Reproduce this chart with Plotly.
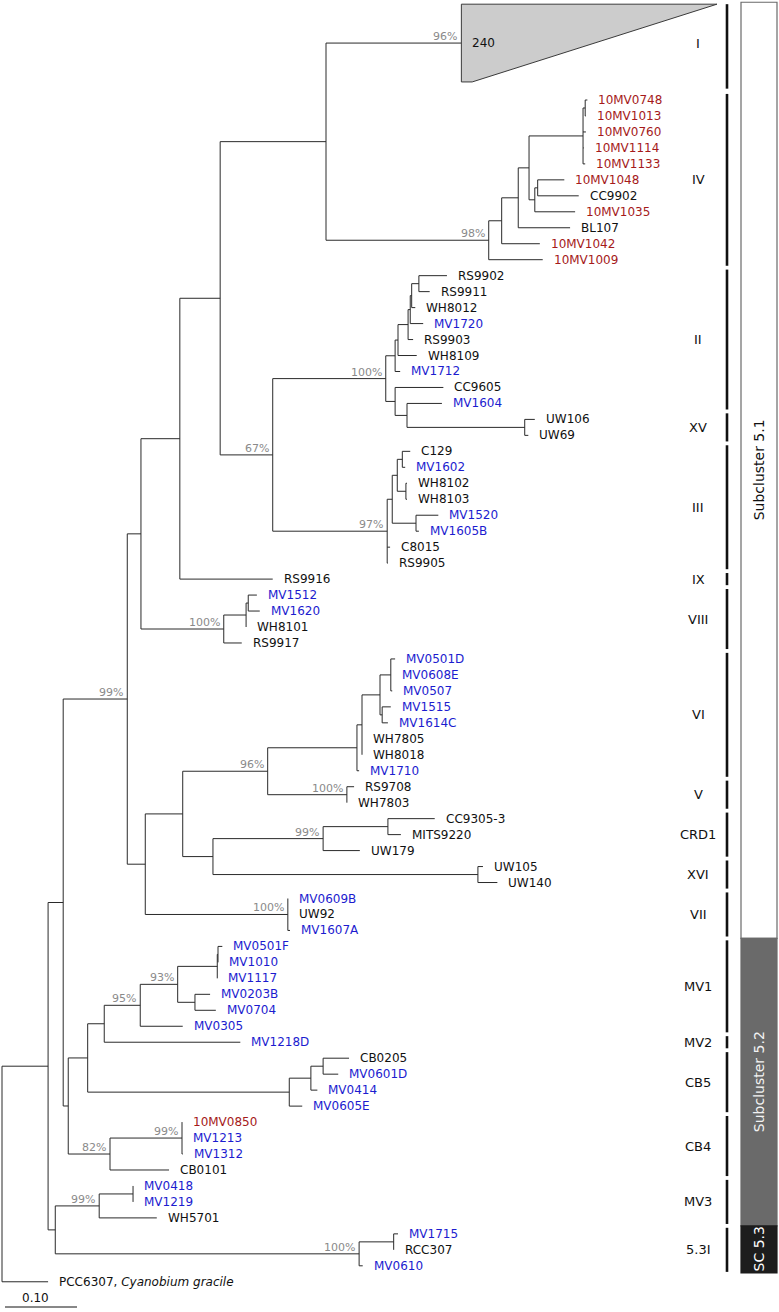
import plotly.graph_objects as go

# ---------------- data ----------------
# tree: internal node = N(depth, children..., bs=bootstrap); leaf = L(name, depth)
# depth = distance from root (substitutions per site)
def L(name, d):
    return {"name": name, "d": d}

def N(d, *kids, bs=None):
    return {"d": d, "kids": list(kids), "bs": bs}

def C(name, d_left, d_bottom, d_apex, count, bs=None):
    return {"name": name, "d": d_left, "d_bottom": d_bottom, "d_apex": d_apex,
            "count": count, "bs": bs, "collapsed": True}

tree = N(0.0,
  N(0.064,
    N(0.085,
      N(0.174,
        N(0.193,
          N(0.247,
            N(0.303,
              N(0.45,
                C("I", 0.638, 0.653, 0.993, "240", bs="96%"),
                N(0.676,
                  N(0.694,
                    N(0.717,
                      N(0.732,
                        N(0.807,
                          N(0.81, L("10MV0748", 0.813), L("10MV1013", 0.811)),
                          L("10MV0760", 0.811), L("10MV1114", 0.808), L("10MV1133", 0.81)),
                        N(0.74,
                          N(0.744, L("10MV1048", 0.781), L("CC9902", 0.801)),
                          L("10MV1035", 0.796))),
                      L("BL107", 0.789)),
                    L("10MV1042", 0.747)),
                  L("10MV1009", 0.751), bs="98%")),
              N(0.376,
                N(0.533,
                  N(0.546,
                    N(0.55,
                      N(0.564,
                        N(0.567,
                          N(0.569,
                            N(0.579, L("RS9902", 0.618), L("RS9911", 0.594)),
                            L("WH8012", 0.574)),
                          L("MV1720", 0.585)),
                        L("RS9903", 0.571)),
                      L("WH8109", 0.576)),
                    L("MV1712", 0.553)),
                  N(0.546,
                    L("CC9605", 0.613),
                    N(0.5625, L("MV1604", 0.611),
                      N(0.726, L("UW106", 0.74), L("UW69", 0.731)))), bs="100%"),
                N(0.535,
                  N(0.542,
                    N(0.549,
                      N(0.556, L("C129", 0.567), L("MV1602", 0.56)),
                      N(0.561, L("WH8102", 0.5625), L("WH8103", 0.5625))),
                    N(0.575, L("MV1520", 0.606), L("MV1605B", 0.579))),
                  L("C8015", 0.539), L("RS9905", 0.536), bs="97%"), bs="67%")),
            L("RS9916", 0.376)),
          N(0.308,
            N(0.339,
              N(0.342, L("MV1512", 0.354), L("MV1620", 0.358)),
              L("WH8101", 0.339)),
            L("RS9917", 0.333), bs="100%")),
        N(0.199,
          N(0.251,
            N(0.369,
              N(0.493,
                N(0.5,
                  N(0.525,
                    N(0.54, L("MV0501D", 0.546), L("MV0608E", 0.54), L("MV0507", 0.542)),
                    N(0.528, L("MV1515", 0.54), L("MV1614C", 0.536))),
                  L("WH7805", 0.5), L("WH8018", 0.5)),
                L("MV1710", 0.496)),
              N(0.479, L("RS9708", 0.489), L("WH7803", 0.479), bs="100%"), bs="96%"),
            N(0.293,
              N(0.446,
                N(0.536, L("CC9305-3", 0.601), L("MITS9220", 0.554)),
                L("UW179", 0.497), bs="99%"),
              N(0.661, L("UW105", 0.668), L("UW140", 0.688)))),
          N(0.397, L("MV0609B", 0.397), L("UW92", 0.397), L("MV1607A", 0.4), bs="100%")), bs="99%"),
      N(0.092,
        N(0.119,
          N(0.142,
            N(0.192,
              N(0.244,
                N(0.299,
                  N(0.3, L("MV0501F", 0.306), L("MV1010", 0.3)),
                  L("MV1117", 0.299)),
                N(0.268, L("MV0203B", 0.289), L("MV0704", 0.297)), bs="93%"),
              L("MV0305", 0.251), bs="95%"),
            L("MV1218D", 0.331)),
          N(0.399,
            N(0.429,
              N(0.446, L("CB0205", 0.482), L("MV0601D", 0.467)),
              L("MV0414", 0.438)),
            L("MV0605E", 0.417))),
        N(0.15,
          N(0.25, L("10MV0850", 0.25), L("MV1213", 0.25), L("MV1312", 0.251), bs="99%"),
          L("CB0101", 0.232), bs="82%"))),
    N(0.074,
      N(0.135,
        N(0.182, L("MV0418", 0.182), L("MV1219", 0.182)),
        L("WH5701", 0.215), bs="99%"),
      N(0.496,
        N(0.544, L("MV1715", 0.55), L("RCC307", 0.544)),
        L("MV0610", 0.501), bs="100%"))),
  L("PCC6307, <i>Cyanobium gracile</i>", 0.064))

clade_names = ["I", "IV", "II", "XV", "III", "IX", "VIII", "VI", "V", "CRD1",
               "XVI", "VII", "MV1", "MV2", "CB5", "CB4", "MV3", "5.3I"]
clade_first = ["I", "10MV0748", "RS9902", "UW106", "C129", "RS9916", "MV1512", "MV0501D",
               "RS9708", "CC9305-3", "UW105", "MV0609B", "MV0501F", "MV1218D", "CB0205",
               "10MV0850", "MV0418", "MV1715"]
clade_last = ["I", "10MV1009", "MV1604", "UW69", "RS9905", "RS9916", "RS9917", "MV1710",
              "WH7803", "UW179", "UW140", "MV1607A", "MV0305", "MV1218D", "MV0605E",
              "CB0101", "WH5701", "MV0610"]

sub_names = ["Subcluster 5.1", "Subcluster 5.2", "SC 5.3"]
sub_first = ["I", "MV0501F", "MV1715"]
sub_last = ["MV1607A", "WH5701", "MV0610"]

scale_bar_length = 0.10
scale_bar_label = "0.10"

# ---------------- layout constants ----------------
W, H = 779, 1312
PX_PER_UNIT = 720.0
ROOT_PX = 2.0
ROW_PX = 15.97
FIRST_ROW_PX = 100.0
COLLAPSED_TOP, COLLAPSED_BOTTOM = -6.0, -1.13
FONT = "DejaVu Sans"
LINE_COLOR = "#2a2a2a"
RED, BLUE, BLACK, GRAY = "#a51a1a", "#1c1ccf", "#111111", "#8a8a8a"

# ---------------- compute y positions ----------------
counter = [0]
ypos = {}

def layout(node):
    if "kids" in node:
        for k in node["kids"]:
            layout(k)
        node["y"] = (node["kids"][0]["y"] + node["kids"][-1]["y"]) / 2.0
    elif node.get("collapsed"):
        node["y"] = (COLLAPSED_TOP + COLLAPSED_BOTTOM) / 2.0
        ypos[node["name"]] = (COLLAPSED_TOP, COLLAPSED_BOTTOM)
    else:
        node["y"] = float(counter[0])
        ypos[node["name"]] = (node["y"], node["y"])
        counter[0] += 1

layout(tree)

xs, ys = [], []
annotations = []
collapsed_nodes = []

def leaf_color(name):
    if name.startswith("10MV"):
        return RED
    if name.startswith("MV"):
        return BLUE
    return BLACK

def draw(node):
    if "kids" in node:
        kids = node["kids"]
        xs.extend([node["d"], node["d"], None])
        ys.extend([kids[0]["y"], kids[-1]["y"], None])
        for k in kids:
            xs.extend([node["d"], k["d"], None])
            ys.extend([k["y"], k["y"], None])
            draw(k)
    elif node.get("collapsed"):
        collapsed_nodes.append(node)
    else:
        annotations.append(dict(x=node["d"], y=node["y"], text=node["name"], showarrow=False,
                                xanchor="left", yanchor="middle", xshift=9,
                                font=dict(family=FONT, size=12, color=leaf_color(node["name"]))))
    if node.get("bs"):
        annotations.append(dict(x=node["d"], y=node["y"], text=node["bs"], showarrow=False,
                                xanchor="right", yanchor="bottom", xshift=-2, yshift=-2,
                                font=dict(family=FONT, size=11, color=GRAY)))

draw(tree)

fig = go.Figure()
fig.add_trace(go.Scatter(x=xs, y=ys, mode="lines", line=dict(color=LINE_COLOR, width=1),
                         hoverinfo="skip", showlegend=False))

for c in collapsed_nodes:
    fig.add_trace(go.Scatter(
        x=[c["d"], c["d_apex"], c["d_bottom"], c["d"], c["d"]],
        y=[COLLAPSED_TOP, COLLAPSED_TOP, COLLAPSED_BOTTOM, COLLAPSED_BOTTOM, COLLAPSED_TOP],
        mode="lines", fill="toself", fillcolor="#cccccc",
        line=dict(color="#3a3a3a", width=1), hoverinfo="skip", showlegend=False))
    annotations.append(dict(x=c["d"], y=c["y"], text=c["count"], showarrow=False,
                            xanchor="left", yanchor="middle", xshift=9,
                            font=dict(family=FONT, size=12, color=BLACK)))

# scale bar
sb_x0 = (5 - ROOT_PX) / PX_PER_UNIT
sb_y = (1307 - FIRST_ROW_PX) / ROW_PX
fig.add_trace(go.Scatter(x=[sb_x0, sb_x0 + scale_bar_length], y=[sb_y, sb_y], mode="lines",
                         line=dict(color=BLACK, width=1), hoverinfo="skip", showlegend=False))
annotations.append(dict(x=sb_x0 + scale_bar_length / 2, y=sb_y, text=scale_bar_label,
                        showarrow=False, xanchor="center", yanchor="bottom", xshift=-6, yshift=0,
                        font=dict(family=FONT, size=12, color=BLACK)))

shapes = []
BAR_X = 727 / W
LABEL_X = 698 / W
pad = 0.38
for name, f, l in zip(clade_names, clade_first, clade_last):
    y0 = ypos[f][0] - (0 if f == "I" else pad)
    y1 = ypos[l][1] + (0.42 if l == "I" else pad)
    shapes.append(dict(type="line", xref="paper", yref="y", x0=BAR_X, x1=BAR_X, y0=y0, y1=y1,
                       line=dict(color=BLACK, width=2.6)))
    annotations.append(dict(xref="paper", yref="y", x=LABEL_X, y=(ypos[f][0] + ypos[l][1]) / 2,
                            text=name, showarrow=False, xanchor="center", yanchor="middle",
                            font=dict(family=FONT, size=13, color=BLACK)))

sub_fill = ["#ffffff", "#6a6a6a", "#1d1d1d"]
sub_text = ["#111111", "#f2f2f2", "#ffffff"]
bounds = []
for i, (f, l) in enumerate(zip(sub_first, sub_last)):
    top = ypos[f][0] - 0.12 if i == 0 else (ypos[sub_last[i - 1]][1] + ypos[f][0]) / 2
    bot = ypos[l][1] + 0.45 if i == len(sub_first) - 1 else (ypos[l][1] + ypos[sub_first[i + 1]][0]) / 2
    bounds.append((top, bot))
for (top, bot), name, fc, tc in zip(bounds, sub_names, sub_fill, sub_text):
    shapes.append(dict(type="rect", xref="paper", yref="y", x0=741 / W, x1=777 / W, y0=top, y1=bot,
                       fillcolor=fc, line=dict(color="#6a6a6a" if fc == "#ffffff" else fc, width=1.2),
                       layer="below"))
    annotations.append(dict(xref="paper", yref="y", x=759 / W, y=(top + bot) / 2, text=name,
                            textangle=-90, showarrow=False, xanchor="center", yanchor="middle",
                            font=dict(family=FONT, size=14, color=tc)))

x_range = [(0 - ROOT_PX) / PX_PER_UNIT, (W - ROOT_PX) / PX_PER_UNIT]
y_range = [(H - FIRST_ROW_PX) / ROW_PX, (0 - FIRST_ROW_PX) / ROW_PX]

fig.update_layout(
    width=W, height=H, margin=dict(l=0, r=0, t=0, b=0),
    paper_bgcolor="white", plot_bgcolor="white",
    xaxis=dict(range=x_range, visible=False, showgrid=False, zeroline=False, fixedrange=True),
    yaxis=dict(range=y_range, visible=False, showgrid=False, zeroline=False, fixedrange=True),
    shapes=shapes, annotations=annotations, font=dict(family=FONT), showlegend=False,
)

fig.write_html("out.html", config={"displayModeBar": False},
               post_script="document.body.style.margin='0';document.body.style.overflow='hidden';")
